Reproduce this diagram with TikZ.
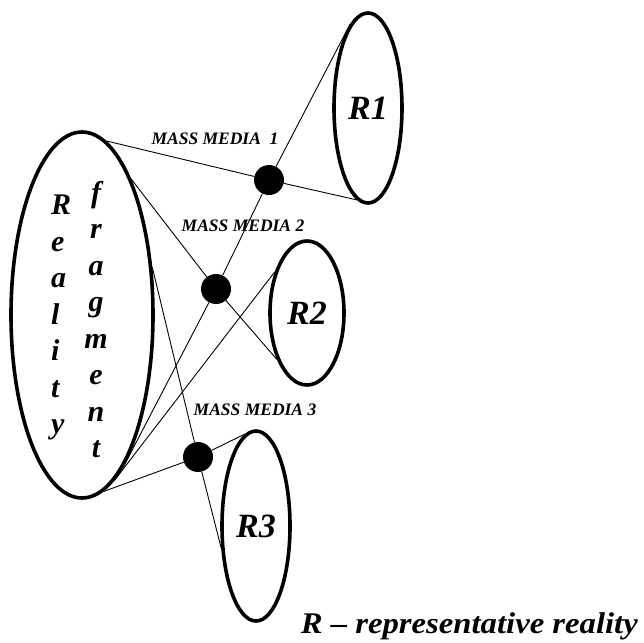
\documentclass[tikz,border=0pt]{standalone}
\usepackage{fontspec}
\setmainfont{Liberation Serif}
\usetikzlibrary{shapes.geometric}
\begin{document}
\begin{tikzpicture}[x=1pt,y=-1pt,
  oval/.style={ellipse,draw,line width=3.6pt,inner sep=0pt,
    font=\fontsize{34}{36}\selectfont\bfseries\itshape},
  dot/.style={circle,fill=black,inner sep=0pt,minimum size=30pt},
  link/.style={line width=0.9pt},
  lbl/.style={font=\fontsize{17.5}{20}\selectfont\bfseries\itshape,inner sep=0pt},
  col/.style={font=\fontsize{30}{36.5}\selectfont\bfseries\itshape,inner sep=0pt}]
\path[fill=white] (0,0) rectangle (644,642);
\useasboundingbox (0,0) rectangle (644,642);
% ellipses
\node[oval,minimum width=142pt,minimum height=366pt] (big) at (82,315) {};
\node[oval,minimum width=68pt,minimum height=190pt] (r1) at (368,108) {R1};
\node[oval,minimum width=74pt,minimum height=144pt] (r2) at (307,313) {R2};
\node[oval,minimum width=68pt,minimum height=190pt] (r3) at (256,526) {R3};
% text inside the big ellipse
\node[col,align=left,anchor=north west] (real) at (51,195) {R\\e\\a\\l\\i\\t\\y};
\node[col,align=center,anchor=north] (frag) at (96,181) {f\\r\\a\\g\\m\\e\\n\\t};
% mass media dots
\node[dot] (d1) at (269,180) {};
\node[dot] (d2) at (216,289) {};
\node[dot] (d3) at (198,457) {};
% labels
\node[lbl] (m1) at (215,139) {MASS MEDIA\ \ 1};
\node[lbl] (m2) at (243,226) {MASS MEDIA 2};
\node[lbl] (m3) at (255,410) {MASS MEDIA 3};
% connectors
\draw[link] (big.82) -- (d1) -- (r1.263);
\draw[link] (r1.102) -- (d1) -- (d2) -- (big.-75);
\draw[link] (big.70) -- (d2) -- (r2.237);
\draw[link] (r2.128) -- (big.-79);
\draw[link] (big.34) -- (d3) -- (r3.212);
\draw[link] (big.-83) -- (d3) -- (r3.97);
% legend
\node[inner sep=0pt,anchor=base east,font=\fontsize{30}{34}\selectfont\bfseries\itshape] (legend) at (638,633) {\scalebox{1.09}[1]{R – representative reality}};
\end{tikzpicture}
\end{document}
